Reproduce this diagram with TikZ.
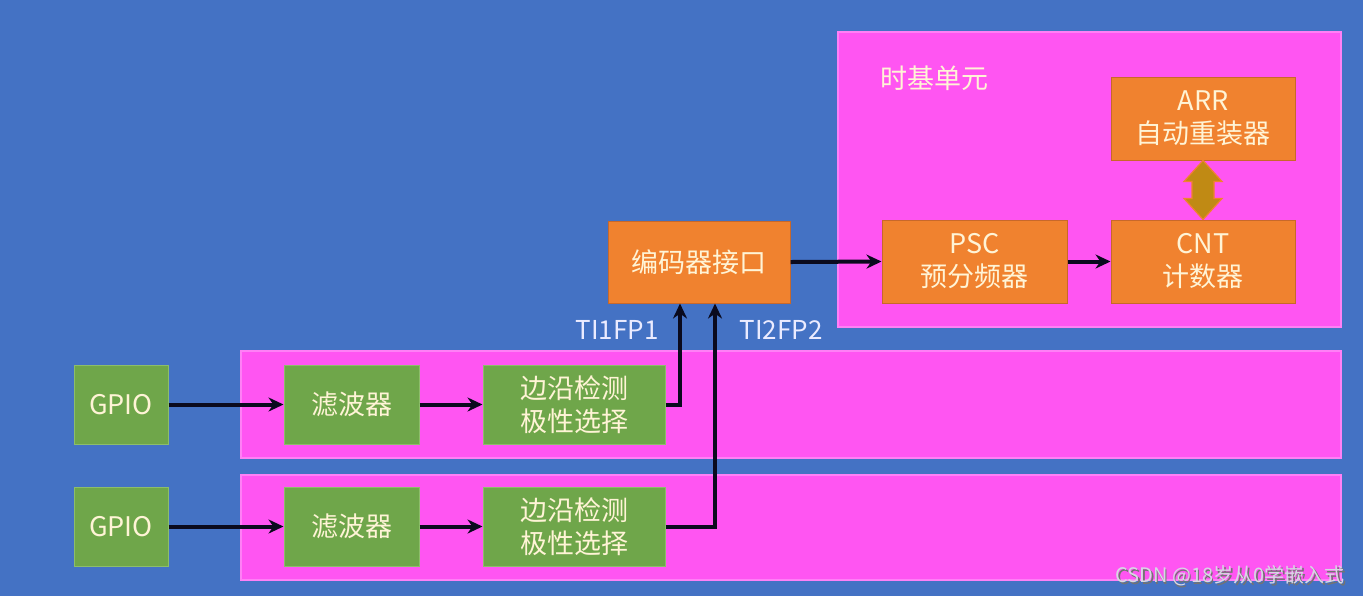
\documentclass[tikz,border=0pt]{standalone}
\usepackage{fontspec}
\setmainfont{Noto Sans CJK SC}
\usetikzlibrary{arrows.meta,calc}
\definecolor{bg}{HTML}{4472C4}
\definecolor{pinkreg}{HTML}{FF55F2}
\definecolor{pinkedge}{HTML}{FF80F6}
\definecolor{orangebox}{HTML}{F0822F}
\definecolor{orangeedge}{HTML}{C8682A}
\definecolor{greenbox}{HTML}{6FA64A}
\definecolor{greenedge}{HTML}{8CBE6A}
\definecolor{cream}{HTML}{FFF4D6}
\definecolor{gold}{HTML}{C08A14}
\definecolor{arrowink}{HTML}{0A0A1E}
\definecolor{wm}{HTML}{D8D8E4}
\tikzset{
  region/.style={fill=pinkreg, draw=pinkedge, line width=0.6pt, inner sep=0pt},
  obox/.style={fill=orangebox, draw=orangeedge, line width=0.5pt, text=cream,
    align=center, inner sep=0pt, minimum width=92pt, minimum height=41.5pt,
    font=\fontsize{13.5}{16.5}\selectfont},
  gbox/.style={fill=greenbox, draw=greenedge, line width=0.5pt, text=cream,
    align=center, inner sep=0pt, minimum height=39.5pt,
    font=\fontsize{13.5}{16.5}\selectfont},
  arr/.style={draw=arrowink, line width=2pt, -{Stealth[length=7.5pt,width=7pt]}},
  lbl/.style={text=white!92!blue, font=\fontsize{13}{15}\selectfont, inner sep=0pt},
  wmfont/.style={font=\sffamily\fontsize{10}{12}\selectfont, inner sep=0pt, anchor=east}
}
\setsansfont{Noto Sans CJK SC}
\begin{document}
\begin{tikzpicture}[x=0.5pt,y=-0.5pt]
\fill[bg] (0,0) rectangle (1363,596);
\useasboundingbox (0,0) rectangle (1363,596);

% regions
\node[region, minimum width=251.5pt, minimum height=147.5pt] (tb) at (1089.5,179.5) {};
\node[region, minimum width=550pt, minimum height=53.5pt] (row1) at (791,404.5) {};
\node[region, minimum width=550pt, minimum height=52.5pt] (row2) at (791,527.5) {};

\node[text=cream, font=\fontsize{13.5}{16.5}\selectfont, inner sep=0pt, anchor=west] (tbl) at (880,78) {时基单元};

% time base boxes
\node[obox] (arrb) at (1203,118.5) {ARR\\自动重装器};
\node[obox] (cnt) at (1203,261.5) {CNT\\计数器};
\node[obox, minimum width=92.5pt] (psc) at (974.5,261.5) {PSC\\预分频器};
\node[obox, minimum width=91pt, minimum height=41pt] (enc) at (699,262) {编码器接口};

% input chains
\node[gbox, minimum width=47pt] (gpio1) at (121,404.5) {GPIO};
\node[gbox, minimum width=47pt] (gpio2) at (121,526.5) {GPIO};
\node[gbox, minimum width=67.5pt] (filt1) at (351.5,404.5) {滤波器};
\node[gbox, minimum width=67.5pt] (filt2) at (351.5,526.5) {滤波器};
\node[gbox, minimum width=91pt] (edge1) at (574,404.5) {边沿检测\\极性选择};
\node[gbox, minimum width=91pt] (edge2) at (574,526.5) {边沿检测\\极性选择};

% labels
\node[lbl] (ti1) at (617,330) {TI1FP1};
\node[lbl] (ti2) at (781,330) {TI2FP2};

% arrows
\draw[arr] (gpio1.east) -- (filt1.west);
\draw[arr] (gpio2.east) -- (filt2.west);
\draw[arr] (filt1.east) -- (edge1.west);
\draw[arr] (filt2.east) -- (edge2.west);
\draw[arr] (edge1.east) -| ([xshift=-9.5pt]enc.south);
\draw[arr] (edge2.east) -| ([xshift=8pt]enc.south);
\draw[arr] (enc.east) -- (psc.west);
\draw[arr] (psc.east) -- (cnt.west);

% double arrow between ARR and CNT
\coordinate (da1) at (arrb.south);
\coordinate (da2) at (cnt.north);
\fill[gold, draw=orangebox, line width=0.6pt]
  (da1) -- ++(19,21) -- ++(-8,0) -- ($(da2)+(11,-21)$) -- ++(8,0) -- (da2)
  -- ++(-19,-21) -- ++(8,0) -- ($(da1)+(-11,21)$) -- ++(-8,0) -- cycle;

% watermark
\node[wmfont, text=black!55] at (1346.5,577.5) {CSDN @18岁从0学嵌入式};
\node[wmfont, text=wm] (wmk) at (1345,576) {CSDN @18岁从0学嵌入式};
\end{tikzpicture}
\end{document}
